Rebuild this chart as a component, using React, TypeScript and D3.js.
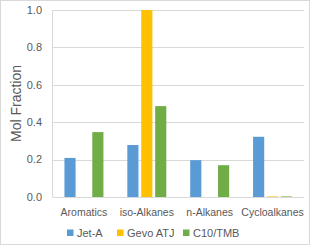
import React, { useEffect, useRef } from 'react';
import * as d3 from 'd3';

const categories = ['Aromatics', 'iso-Alkanes', 'n-Alkanes', 'Cycloalkanes'];
const seriesNames = ['Jet-A', 'Gevo ATJ', 'C10/TMB'];
const seriesColors = ['#5B9BD5', '#FFC000', '#70AD47'];
const jetA = [0.209, 0.278, 0.197, 0.322];
const gevoAtj = [0, 1.0, 0, 0.003];
const c10Tmb = [0.347, 0.486, 0.17, 0.003];
const yTicks = [0, 0.2, 0.4, 0.6, 0.8, 1.0];

const W = 310;
const H = 245;
const FONT = '"Liberation Sans", Arial, sans-serif';

const App = () => {
  const svgRef = useRef<SVGSVGElement>(null);

  useEffect(() => {
    document.body.style.margin = '0';
    const svg = d3.select(svgRef.current);
    svg.selectAll('*').remove();

    const left = 52.5, right = 304, top = 10, bottom = 197;
    const values = [jetA, gevoAtj, c10Tmb];

    const x = d3.scaleBand().domain(categories).range([left, right]).paddingInner(0.38).paddingOuter(0.19);
    const xs = d3.scaleBand().domain(seriesNames).range([0, x.bandwidth()]).paddingInner(0.2);
    const y = d3.scaleLinear().domain([0, 1]).range([bottom, top]);

    // chart border
    svg.append('rect')
      .attr('x', 0.5).attr('y', 0.5).attr('width', W - 1).attr('height', H - 1)
      .attr('fill', 'white').attr('stroke', '#D9D9D9');

    // gridlines
    svg.selectAll('.grid')
      .data(yTicks)
      .enter()
      .append('line')
      .attr('x1', left).attr('x2', right)
      .attr('y1', d => Math.round(y(d)) + 0.5).attr('y2', d => Math.round(y(d)) + 0.5)
      .attr('stroke', '#D9D9D9');

    svg.append('line')
      .attr('x1', left).attr('x2', left)
      .attr('y1', top).attr('y2', bottom)
      .attr('stroke', '#D9D9D9');

    // bars
    seriesNames.forEach((s, i) => {
      svg.selectAll(`.bar${i}`)
        .data(values[i])
        .enter()
        .append('rect')
        .attr('x', (d, j) => (x(categories[j]) as number) + (xs(s) as number))
        .attr('y', d => y(d))
        .attr('width', xs.bandwidth())
        .attr('height', d => bottom - y(d))
        .attr('fill', seriesColors[i]);
    });

    // y tick labels
    svg.selectAll('.ytick')
      .data(yTicks)
      .enter()
      .append('text')
      .attr('x', 42)
      .attr('y', d => y(d))
      .attr('dy', '0.35em')
      .attr('text-anchor', 'end')
      .style('font-family', FONT)
      .style('font-size', '11px')
      .attr('fill', '#595959')
      .text(d => d.toFixed(1));

    // category labels
    svg.selectAll('.xtick')
      .data(categories)
      .enter()
      .append('text')
      .attr('x', d => (x(d) as number) + x.bandwidth() / 2)
      .attr('y', 216)
      .attr('text-anchor', 'middle')
      .style('font-family', FONT)
      .style('font-size', '10.5px')
      .attr('fill', '#595959')
      .text(d => d);

    // y axis title
    svg.append('text')
      .attr('transform', `translate(21, ${(top + bottom) / 2}) rotate(-90)`)
      .attr('text-anchor', 'middle')
      .style('font-family', FONT)
      .style('font-size', '14px')
      .attr('fill', '#595959')
      .text('Mol Fraction');

    // legend
    const legendX = [67, 117, 183];
    seriesNames.forEach((s, i) => {
      svg.append('rect')
        .attr('x', legendX[i]).attr('y', 229.5)
        .attr('width', 6.5).attr('height', 6.5)
        .attr('fill', seriesColors[i]);
      svg.append('text')
        .attr('x', legendX[i] + 10).attr('y', 236.5)
        .style('font-family', FONT)
        .style('font-size', '11px')
        .attr('fill', '#595959')
        .text(s);
    });
  }, []);

  return <svg ref={svgRef} width={W} height={H} style={{ display: 'block' }} />;
};

export default App;
